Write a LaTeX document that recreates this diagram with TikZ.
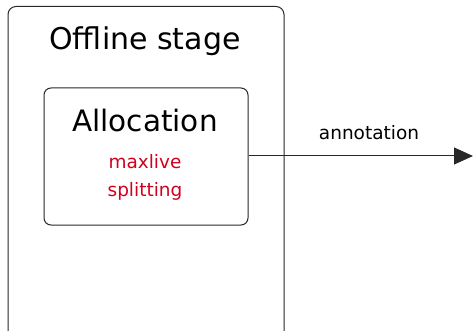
\documentclass[tikz,border=0pt]{standalone}
\usepackage{fontspec}
\setmainfont{DejaVu Sans}
\usetikzlibrary{arrows.meta}
\definecolor{boxline}{RGB}{40,40,40}
\definecolor{notered}{RGB}{208,0,30}
\begin{document}
\begin{tikzpicture}[x=1pt,y=-1pt,
  stagebox/.style={draw=boxline,line width=1pt,rounded corners=8pt,inner sep=0pt},
  title/.style={anchor=base,font=\fontsize{30}{34}\selectfont},
  note/.style={anchor=base,text=notered,font=\fontsize{18.5}{22}\selectfont},
  label/.style={anchor=base,font=\fontsize{18.5}{22}\selectfont},
  flow/.style={draw=boxline,line width=1pt,-{Triangle[length=19pt,width=17pt]}}]
  \useasboundingbox (0,0) rectangle (473,331);
  \clip (0,0) rectangle (473,331);
  % outer stage frame, running past the lower edge
  \node[stagebox,minimum width=276pt,minimum height=345pt,anchor=north west] (offline) at (7.5,6) {};
  \node[title] (offtitle) at (145,50) {Offline stage};
  % allocation step
  \node[stagebox,rounded corners=7pt,minimum width=204pt,minimum height=137pt,anchor=north west] (alloc) at (43.5,87.5) {};
  \node[title,font=\fontsize{29.5}{34}\selectfont] (alloctitle) at (145,132) {Allocation};
  \node[note] (maxlive) at (145,168) {maxlive};
  \node[note] (splitting) at (145,196) {splitting};
  % output arrow
  \coordinate (out) at (473,156);
  \draw[flow] (alloc.east |- out) -- (out);
  \node[label] (annot) at (369,140) {annotation};
\end{tikzpicture}
\end{document}
